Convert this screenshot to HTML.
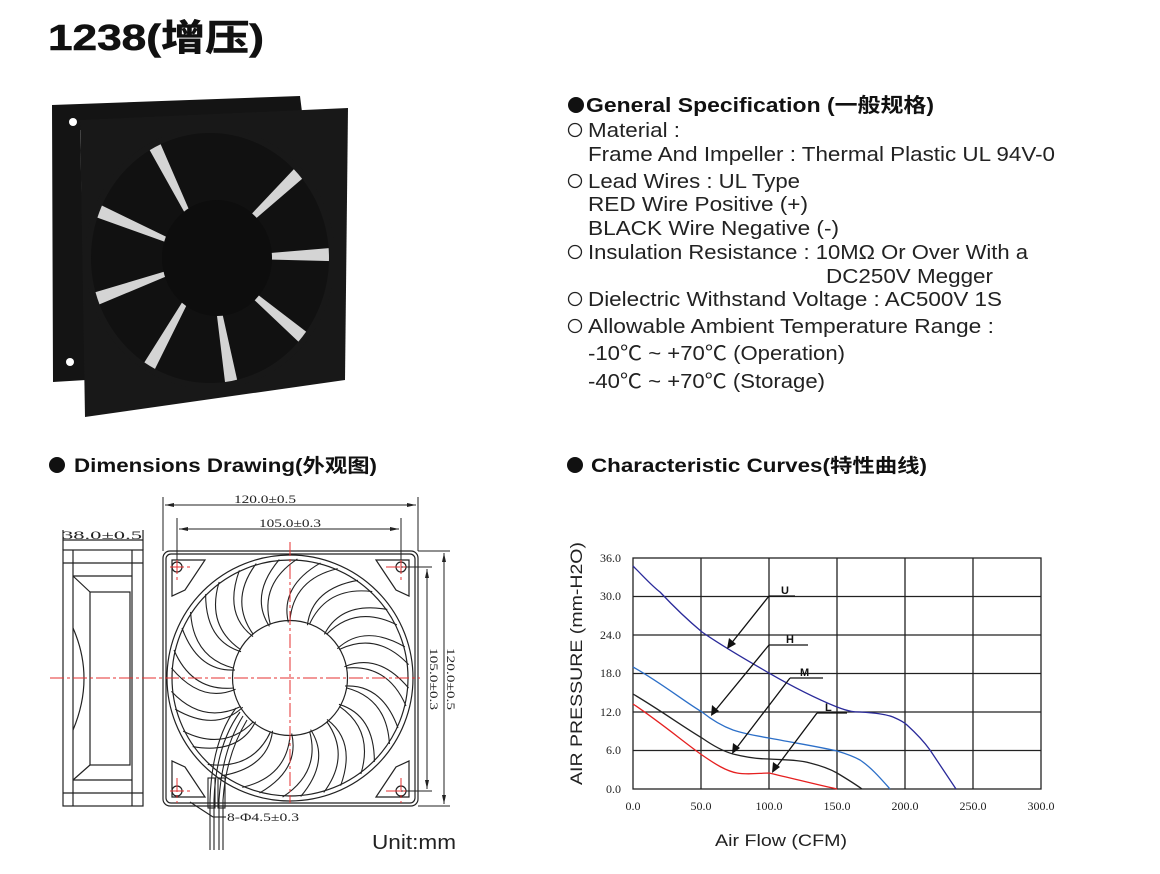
<!DOCTYPE html>
<html><head><meta charset="utf-8"><style>
html,body{margin:0;padding:0;background:#fff;}
svg{display:block;font-family:"Liberation Sans","Noto Sans CJK SC",sans-serif;}
.s{font-size:20px;fill:#222;}
.sf{font-family:"Liberation Serif","Noto Serif CJK SC",serif;font-size:12px;fill:#222;}
</style></head><body>
<svg width="1160" height="874" viewBox="0 0 1160 874" xmlns="http://www.w3.org/2000/svg">
<text x="48" y="50" font-size="36" font-weight="bold" fill="#111" stroke="#111" stroke-width="0.6" textLength="216" lengthAdjust="spacingAndGlyphs">1238(增压)</text>

<polygon points="52,105 300,96 302,112 80,130 86,380 53,382" fill="#141414"/>
<polygon points="80,120 348,108 345,380 85,417" fill="#181818"/>
<ellipse cx="210" cy="258" rx="122" ry="128" fill="#d4d4d4"/>
<g transform="translate(210,258) scale(1,1.05)">
<circle r="61" fill="none" stroke="#111" stroke-width="122" stroke-dasharray="37,6.3" transform="rotate(-80)"/>
</g>
<ellipse cx="210" cy="258" rx="122" ry="128" fill="none" stroke="#181818" stroke-width="6"/>
<ellipse cx="217" cy="258" rx="55" ry="58" fill="#0d0d0d"/>
<circle cx="73" cy="122" r="4" fill="#fff"/>
<circle cx="70" cy="362" r="4" fill="#fff"/>

<circle cx="576" cy="105" r="8" fill="#111"/>
<text x="586" y="112" font-size="20" font-weight="bold" fill="#111" textLength="348" lengthAdjust="spacingAndGlyphs">General Specification  (一般规格)</text>
<g class="s">
<circle cx="575" cy="130" r="6.5" fill="none" stroke="#222" stroke-width="1.3"/>
<text x="588" y="137" textLength="92" lengthAdjust="spacingAndGlyphs">Material :</text>
<text x="588" y="161" textLength="467" lengthAdjust="spacingAndGlyphs">Frame And Impeller : Thermal Plastic UL 94V-0</text>
<circle cx="575" cy="181" r="6.5" fill="none" stroke="#222" stroke-width="1.3"/>
<text x="588" y="188" textLength="212" lengthAdjust="spacingAndGlyphs">Lead Wires : UL Type</text>
<text x="588" y="211" textLength="220" lengthAdjust="spacingAndGlyphs">RED Wire Positive (+)</text>
<text x="588" y="235" textLength="251" lengthAdjust="spacingAndGlyphs">BLACK Wire Negative (-)</text>
<circle cx="575" cy="252" r="6.5" fill="none" stroke="#222" stroke-width="1.3"/>
<text x="588" y="259" textLength="440" lengthAdjust="spacingAndGlyphs">Insulation Resistance : 10MΩ Or Over With a</text>
<text x="826" y="283" textLength="167" lengthAdjust="spacingAndGlyphs">DC250V Megger</text>
<circle cx="575" cy="299" r="6.5" fill="none" stroke="#222" stroke-width="1.3"/>
<text x="588" y="306" textLength="414" lengthAdjust="spacingAndGlyphs">Dielectric Withstand Voltage : AC500V 1S</text>
<circle cx="575" cy="326" r="6.5" fill="none" stroke="#222" stroke-width="1.3"/>
<text x="588" y="333" textLength="406" lengthAdjust="spacingAndGlyphs">Allowable Ambient Temperature Range :</text>
<text x="588" y="360" textLength="257" lengthAdjust="spacingAndGlyphs">-10℃ ~ +70℃ (Operation)</text>
<text x="588" y="388" textLength="237" lengthAdjust="spacingAndGlyphs">-40℃ ~ +70℃ (Storage)</text>
</g>

<circle cx="57" cy="465" r="8" fill="#111"/>
<text x="74" y="472" font-size="19" font-weight="bold" fill="#111" textLength="303" lengthAdjust="spacingAndGlyphs">Dimensions Drawing(外观图)</text>
<circle cx="575" cy="465" r="8" fill="#111"/>
<text x="591" y="472" font-size="19" font-weight="bold" fill="#111" textLength="336" lengthAdjust="spacingAndGlyphs">Characteristic Curves(特性曲线)</text>

<g fill="none" stroke="#222" stroke-width="1.2">
<rect x="63" y="550" width="80" height="256"/>
<line x1="73" y1="550" x2="73" y2="806"/>
<line x1="132" y1="550" x2="132" y2="806"/>
<line x1="63" y1="563" x2="143" y2="563"/>
<line x1="73" y1="576" x2="132" y2="576"/>
<line x1="73" y1="780" x2="132" y2="780"/>
<line x1="63" y1="793" x2="143" y2="793"/>
<rect x="90" y="592" width="40" height="173"/>
<line x1="73" y1="576" x2="90" y2="592"/>
<line x1="73" y1="780" x2="90" y2="765"/>
<path d="M73,628 Q95,678 73,730"/>
<line x1="63" y1="540" x2="143" y2="540"/>
<line x1="63" y1="530" x2="63" y2="550"/>
<line x1="143" y1="530" x2="143" y2="550"/>
</g>
<text x="62" y="539" class="sf" font-size="17" textLength="80" lengthAdjust="spacingAndGlyphs">38.0±0.5</text>

<g fill="none" stroke="#222" stroke-width="1.2">
<rect x="163" y="551" width="255" height="255" rx="7"/>
<rect x="166" y="554" width="249" height="249" rx="5"/>
<circle cx="290" cy="678" r="123"/>
<circle cx="290" cy="678" r="118"/>
<circle cx="290" cy="678" r="57.5"/>
<circle cx="177" cy="567" r="5"/><circle cx="401" cy="567" r="5"/>
<circle cx="177" cy="791" r="5"/><circle cx="401" cy="791" r="5"/>
<path d="M172,560 L205,560 L185,590 L172,596 Z"/>
<path d="M409,560 L376,560 L396,590 L409,596 Z"/>
<path d="M172,797 L205,797 L185,767 L172,761 Z"/>
<path d="M409,797 L376,797 L396,767 L409,761 Z"/>
</g>
<g fill="none" stroke="#222" stroke-width="1.1" transform="translate(290,678)">
<g transform="rotate(0)"><path d="M56,-10 Q98,-14 116,28"/><path d="M55,8 Q92,6 108,50"/></g>
<g transform="rotate(20)"><path d="M56,-10 Q98,-14 116,28"/><path d="M55,8 Q92,6 108,50"/></g>
<g transform="rotate(40)"><path d="M56,-10 Q98,-14 116,28"/><path d="M55,8 Q92,6 108,50"/></g>
<g transform="rotate(60)"><path d="M56,-10 Q98,-14 116,28"/><path d="M55,8 Q92,6 108,50"/></g>
<g transform="rotate(80)"><path d="M56,-10 Q98,-14 116,28"/><path d="M55,8 Q92,6 108,50"/></g>
<g transform="rotate(100)"><path d="M56,-10 Q98,-14 116,28"/><path d="M55,8 Q92,6 108,50"/></g>
<g transform="rotate(120)"><path d="M56,-10 Q98,-14 116,28"/><path d="M55,8 Q92,6 108,50"/></g>
<g transform="rotate(140)"><path d="M56,-10 Q98,-14 116,28"/><path d="M55,8 Q92,6 108,50"/></g>
<g transform="rotate(160)"><path d="M56,-10 Q98,-14 116,28"/><path d="M55,8 Q92,6 108,50"/></g>
<g transform="rotate(180)"><path d="M56,-10 Q98,-14 116,28"/><path d="M55,8 Q92,6 108,50"/></g>
<g transform="rotate(200)"><path d="M56,-10 Q98,-14 116,28"/><path d="M55,8 Q92,6 108,50"/></g>
<g transform="rotate(220)"><path d="M56,-10 Q98,-14 116,28"/><path d="M55,8 Q92,6 108,50"/></g>
<g transform="rotate(240)"><path d="M56,-10 Q98,-14 116,28"/><path d="M55,8 Q92,6 108,50"/></g>
<g transform="rotate(260)"><path d="M56,-10 Q98,-14 116,28"/><path d="M55,8 Q92,6 108,50"/></g>
<g transform="rotate(280)"><path d="M56,-10 Q98,-14 116,28"/><path d="M55,8 Q92,6 108,50"/></g>
<g transform="rotate(300)"><path d="M56,-10 Q98,-14 116,28"/><path d="M55,8 Q92,6 108,50"/></g>
<g transform="rotate(320)"><path d="M56,-10 Q98,-14 116,28"/><path d="M55,8 Q92,6 108,50"/></g>
<g transform="rotate(340)"><path d="M56,-10 Q98,-14 116,28"/><path d="M55,8 Q92,6 108,50"/></g>
</g>
<g fill="none" stroke="#222" stroke-width="1.1">
<path d="M236,708 Q212,740 210,800 L210,850"/>
<path d="M240,712 Q216,745 214,800 L214,850"/>
<path d="M243,716 Q222,750 219,800 L219,850"/>
<path d="M247,720 Q226,755 223,800 L223,850"/>
<rect x="208" y="778" width="7" height="30"/>
<rect x="218" y="778" width="7" height="30"/>
<line x1="190" y1="802" x2="213" y2="817"/>
<line x1="213" y1="817" x2="226" y2="817"/>
</g>
<text x="227" y="821" class="sf" font-size="12" textLength="72" lengthAdjust="spacingAndGlyphs">8-Φ4.5±0.3</text>
<g fill="none" stroke="#222" stroke-width="1">
<line x1="163" y1="497" x2="163" y2="551"/><line x1="418" y1="497" x2="418" y2="551"/>
<line x1="165" y1="505" x2="416" y2="505"/>
<line x1="177" y1="518" x2="177" y2="565"/><line x1="401" y1="518" x2="401" y2="565"/>
<line x1="179" y1="529" x2="399" y2="529"/>
<line x1="418" y1="551" x2="450" y2="551"/><line x1="418" y1="806" x2="450" y2="806"/>
<line x1="444" y1="553" x2="444" y2="804"/>
<line x1="401" y1="567" x2="432" y2="567"/><line x1="401" y1="791" x2="432" y2="791"/>
<line x1="427" y1="569" x2="427" y2="789"/>
</g>
<g fill="#222">
<polygon points="165,505 174,503 174,507"/><polygon points="416,505 407,503 407,507"/>
<polygon points="179,529 188,527 188,531"/><polygon points="399,529 390,527 390,531"/>
<polygon points="444,553 442,562 446,562"/><polygon points="444,804 442,795 446,795"/>
<polygon points="427,569 425,578 429,578"/><polygon points="427,789 425,780 429,780"/>
</g>
<text x="234" y="503" class="sf" textLength="62" lengthAdjust="spacingAndGlyphs">120.0±0.5</text>
<text x="259" y="527" class="sf" textLength="62" lengthAdjust="spacingAndGlyphs">105.0±0.3</text>
<text class="sf" transform="translate(447,648) rotate(90)" textLength="62" lengthAdjust="spacingAndGlyphs">120.0±0.5</text>
<text class="sf" transform="translate(430,648) rotate(90)" textLength="62" lengthAdjust="spacingAndGlyphs">105.0±0.3</text>
<g stroke="#e53030" stroke-width="1" stroke-dasharray="14,3,3,3" fill="none">
<line x1="50" y1="678" x2="420" y2="678"/>
<line x1="290" y1="542" x2="290" y2="803"/>
<line x1="170" y1="567" x2="192" y2="567"/><line x1="177" y1="560" x2="177" y2="580"/>
<line x1="386" y1="567" x2="408" y2="567"/><line x1="401" y1="560" x2="401" y2="580"/>
<line x1="170" y1="791" x2="192" y2="791"/><line x1="177" y1="778" x2="177" y2="803"/>
<line x1="386" y1="791" x2="408" y2="791"/><line x1="401" y1="778" x2="401" y2="803"/>
</g>
<text x="372" y="849" font-size="20" fill="#222" textLength="84" lengthAdjust="spacingAndGlyphs">Unit:mm</text>

<g stroke="#222" stroke-width="1.3" fill="none">
<rect x="633" y="558" width="408" height="231"/>
<line x1="701" y1="558" x2="701" y2="789"/><line x1="769" y1="558" x2="769" y2="789"/>
<line x1="837" y1="558" x2="837" y2="789"/><line x1="905" y1="558" x2="905" y2="789"/>
<line x1="973" y1="558" x2="973" y2="789"/>
<line x1="633" y1="596.5" x2="1041" y2="596.5"/><line x1="633" y1="635" x2="1041" y2="635"/>
<line x1="633" y1="673.5" x2="1041" y2="673.5"/><line x1="633" y1="712" x2="1041" y2="712"/>
<line x1="633" y1="750.5" x2="1041" y2="750.5"/>
</g>
<g class="sf" font-size="12" text-anchor="end">
<text x="621" y="562">36.0</text><text x="621" y="600">30.0</text><text x="621" y="639">24.0</text>
<text x="621" y="677">18.0</text><text x="621" y="716">12.0</text><text x="621" y="754">6.0</text><text x="621" y="793">0.0</text>
</g>
<g class="sf" font-size="12" text-anchor="middle">
<text x="633" y="810">0.0</text><text x="701" y="810">50.0</text><text x="769" y="810">100.0</text>
<text x="837" y="810">150.0</text><text x="905" y="810">200.0</text><text x="973" y="810">250.0</text><text x="1041" y="810">300.0</text>
</g>
<text transform="translate(582,785) rotate(-90)" font-size="17" fill="#222" textLength="243" lengthAdjust="spacingAndGlyphs">AIR PRESSURE (mm-H2O)</text>
<text x="715" y="846" font-size="17" fill="#222" textLength="132" lengthAdjust="spacingAndGlyphs">Air Flow (CFM)</text>
<g fill="none" stroke-width="1.3">
<path stroke="#2a2a9a" d="M633,566 C645,578 652,586 660,592 C675,608 690,622 702,632 C725,648 750,662 769,673 C795,688 815,698 837,707 C850,712 855,712 860,712 C875,713 885,714 893,717 C900,720 905,723 907,725 C918,735 925,743 930,750 C940,765 950,780 956,789"/>
<path stroke="#2c6fc8" d="M633,667 C660,682 685,702 702,712 C712,720 722,726 733,730 C745,734 757,736 769,738 C795,743 820,747 837,751 C847,754 853,756 860,760 C872,768 882,780 890,789"/>
<path stroke="#222" d="M633,694 C660,710 685,728 702,738 C712,745 722,751 733,754 C745,757 757,759 769,759 C785,760 800,760 810,763 C822,766 830,769 837,773 C847,779 855,784 862,789"/>
<path stroke="#e52020" d="M633,704 C660,722 685,743 702,755 C715,764 726,771 737,773 C748,775 760,773 769,773 C795,779 818,785 837,789"/>
</g>
<g stroke="#111" stroke-width="1.3" fill="none">
<line x1="769" y1="596" x2="795" y2="596"/><line x1="769" y1="596" x2="730" y2="645"/>
<line x1="769" y1="645" x2="808" y2="645"/><line x1="769" y1="645" x2="714" y2="712"/>
<line x1="790" y1="678" x2="823" y2="678"/><line x1="790" y1="678" x2="735" y2="750"/>
<line x1="817" y1="713" x2="847" y2="713"/><line x1="817" y1="713" x2="775" y2="769"/>
</g>
<g fill="#111">
<polygon points="727,649 729,638 736,644"/>
<polygon points="711,716 712,705 719,711"/>
<polygon points="732,754 733,743 740,748"/>
<polygon points="772,773 773,762 780,767"/>
</g>
<g font-size="11" font-weight="bold" fill="#111">
<text x="781" y="594">U</text><text x="786" y="643">H</text><text x="800" y="676">M</text><text x="825" y="711">L</text>
</g>
</svg>
</body></html>
